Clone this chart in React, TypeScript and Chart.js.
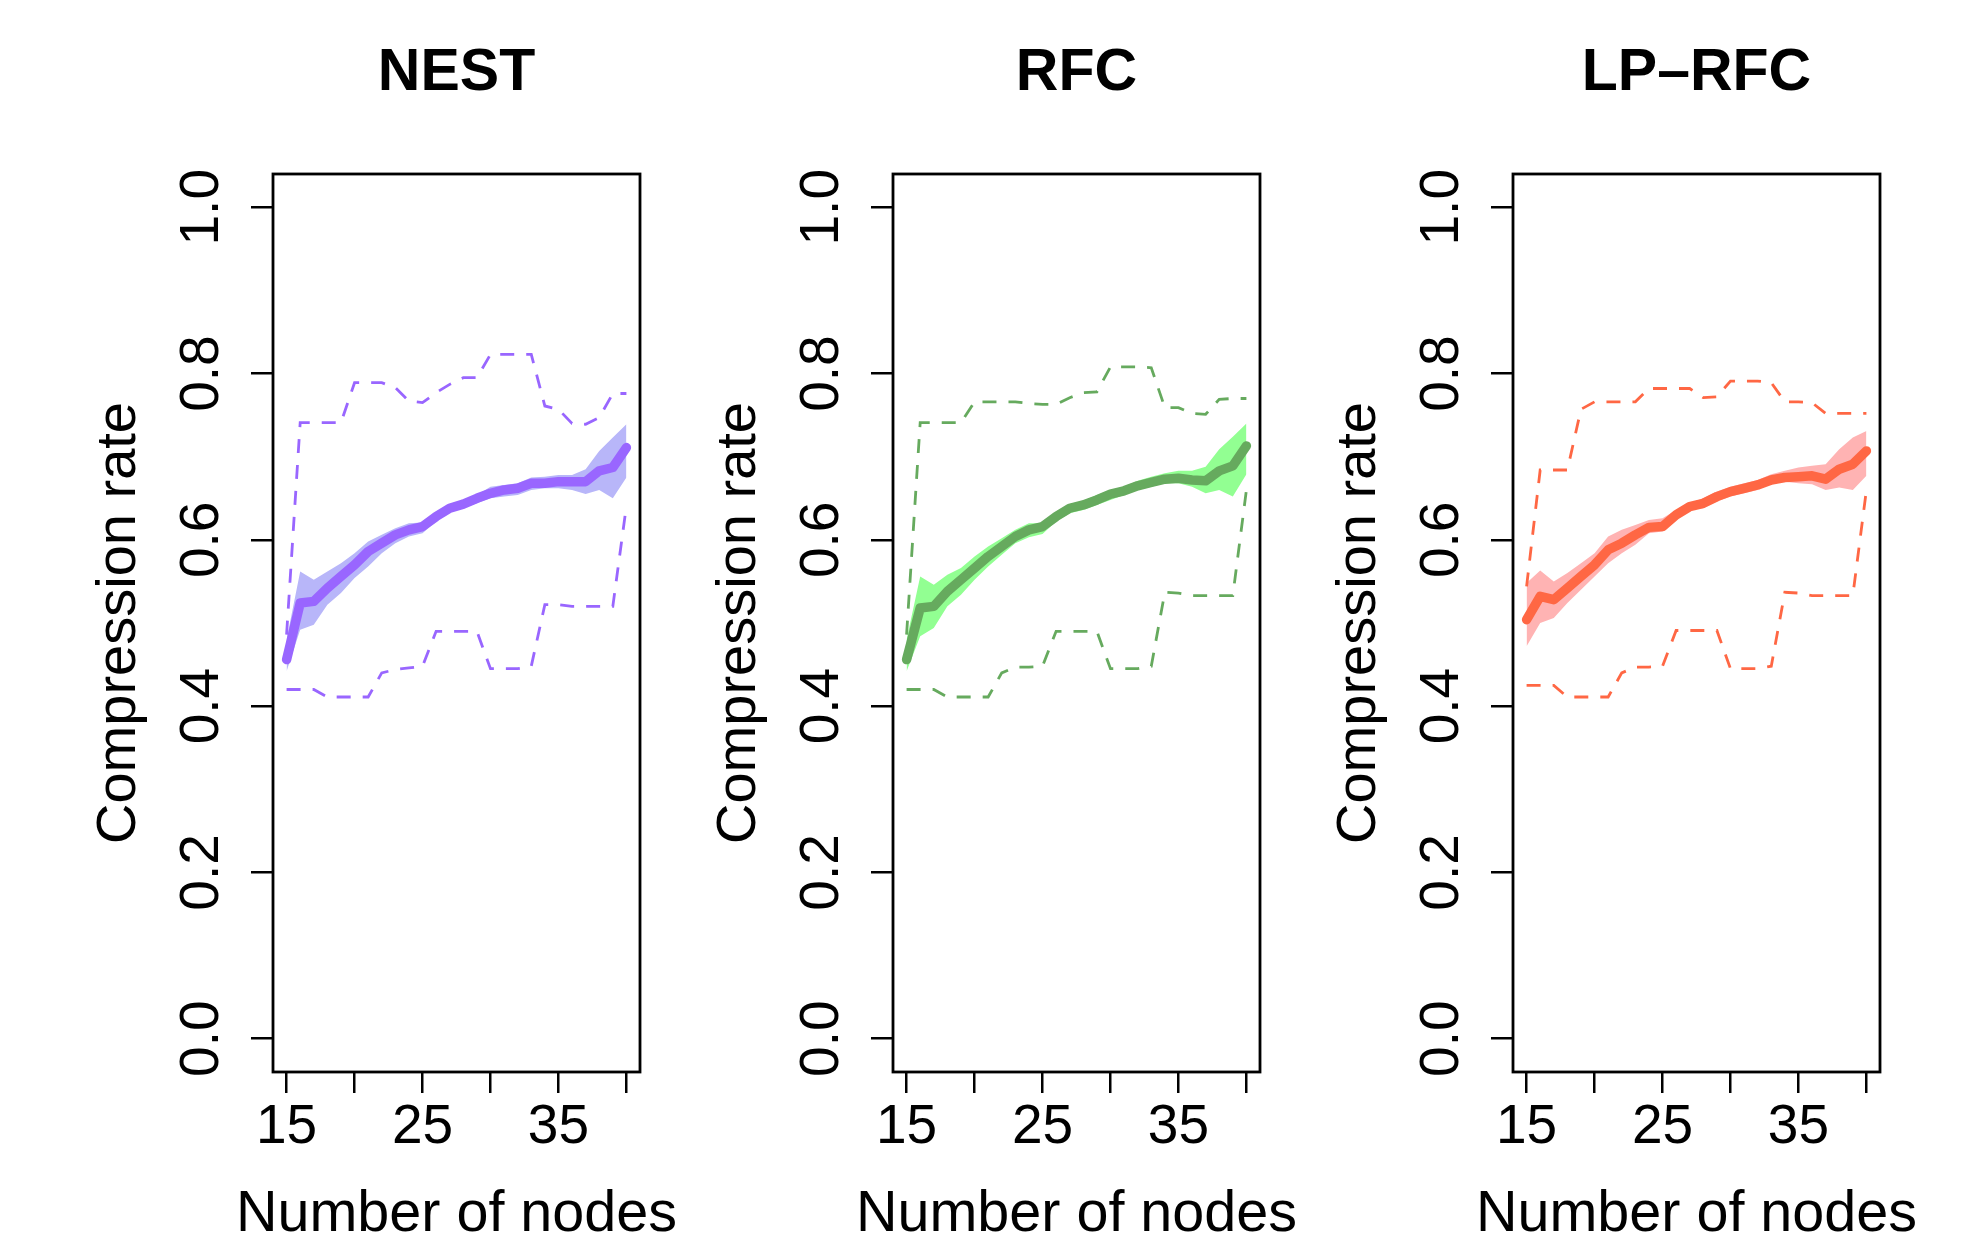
import React, { useEffect, useRef } from "react";
import { Chart, registerables } from "chart.js";

Chart.register(...registerables);

// ---------------- data ----------------
const nodes = [15, 16, 17, 18, 19, 20, 21, 22, 23, 24, 25, 26, 27, 28, 29, 30, 31, 32, 33, 34, 35, 36, 37, 38, 39, 40];

const xTickValues = [15, 20, 25, 30, 35, 40];
const xTickLabels = ["15", "", "25", "", "35", ""];
const yTickValues = [0, 0.2, 0.4, 0.6, 0.8, 1.0];
const panelTitles = ["NEST", "RFC", "LP\u2013RFC"];
const xAxisTitle = "Number of nodes";
const yAxisTitle = "Compression rate";

// NEST
const nestMean = [0.456, 0.524, 0.526, 0.542, 0.556, 0.570, 0.586, 0.596, 0.606, 0.612, 0.616, 0.628, 0.638, 0.643, 0.650, 0.656, 0.660, 0.662, 0.668, 0.668, 0.670, 0.670, 0.670, 0.683, 0.687, 0.711];
const nestBandLo = [0.442, 0.492, 0.498, 0.522, 0.536, 0.554, 0.568, 0.584, 0.596, 0.604, 0.608, 0.622, 0.634, 0.638, 0.644, 0.650, 0.652, 0.654, 0.660, 0.662, 0.662, 0.660, 0.655, 0.660, 0.650, 0.675];
const nestBandHi = [0.480, 0.562, 0.552, 0.562, 0.572, 0.584, 0.598, 0.606, 0.614, 0.620, 0.621, 0.632, 0.643, 0.648, 0.654, 0.664, 0.666, 0.668, 0.675, 0.676, 0.678, 0.678, 0.685, 0.707, 0.723, 0.739];
const nestMax = [0.486, 0.741, 0.741, 0.741, 0.741, 0.789, 0.789, 0.789, 0.783, 0.767, 0.765, 0.777, 0.787, 0.795, 0.795, 0.823, 0.823, 0.823, 0.823, 0.761, 0.757, 0.740, 0.739, 0.747, 0.776, 0.776];
const nestMin = [0.420, 0.420, 0.420, 0.411, 0.411, 0.411, 0.411, 0.440, 0.444, 0.446, 0.448, 0.490, 0.490, 0.490, 0.490, 0.445, 0.445, 0.445, 0.448, 0.522, 0.522, 0.520, 0.520, 0.520, 0.520, 0.641];

// RFC
const rfcMean = [0.456, 0.518, 0.520, 0.538, 0.552, 0.566, 0.580, 0.592, 0.604, 0.612, 0.616, 0.628, 0.638, 0.642, 0.648, 0.655, 0.659, 0.665, 0.669, 0.673, 0.674, 0.672, 0.671, 0.683, 0.689, 0.713];
const rfcBandLo = [0.442, 0.484, 0.494, 0.520, 0.534, 0.552, 0.568, 0.582, 0.596, 0.603, 0.607, 0.622, 0.632, 0.636, 0.642, 0.648, 0.654, 0.660, 0.664, 0.668, 0.668, 0.664, 0.656, 0.660, 0.652, 0.679];
const rfcBandHi = [0.480, 0.556, 0.546, 0.558, 0.566, 0.580, 0.592, 0.602, 0.612, 0.620, 0.620, 0.632, 0.643, 0.647, 0.654, 0.660, 0.664, 0.671, 0.676, 0.680, 0.683, 0.683, 0.688, 0.709, 0.724, 0.740];
const rfcMax = [0.486, 0.741, 0.741, 0.741, 0.741, 0.766, 0.766, 0.766, 0.766, 0.764, 0.763, 0.763, 0.771, 0.777, 0.778, 0.808, 0.808, 0.808, 0.807, 0.759, 0.759, 0.752, 0.751, 0.769, 0.770, 0.770];
const rfcMin = [0.420, 0.420, 0.420, 0.411, 0.411, 0.411, 0.411, 0.440, 0.447, 0.447, 0.448, 0.490, 0.490, 0.490, 0.490, 0.445, 0.445, 0.445, 0.448, 0.537, 0.536, 0.533, 0.533, 0.533, 0.533, 0.660];

// LP-RFC
const lpMean = [0.504, 0.532, 0.528, 0.542, 0.556, 0.570, 0.588, 0.596, 0.606, 0.615, 0.616, 0.630, 0.640, 0.644, 0.652, 0.658, 0.662, 0.666, 0.672, 0.675, 0.676, 0.677, 0.673, 0.685, 0.691, 0.707];
const lpBandLo = [0.472, 0.500, 0.506, 0.524, 0.540, 0.556, 0.572, 0.584, 0.594, 0.608, 0.610, 0.624, 0.636, 0.638, 0.646, 0.652, 0.656, 0.660, 0.668, 0.670, 0.668, 0.667, 0.660, 0.663, 0.660, 0.677];
const lpBandHi = [0.548, 0.563, 0.550, 0.560, 0.572, 0.584, 0.604, 0.612, 0.618, 0.624, 0.626, 0.636, 0.644, 0.650, 0.658, 0.664, 0.668, 0.672, 0.679, 0.683, 0.687, 0.689, 0.691, 0.709, 0.723, 0.731];
const lpMax = [0.544, 0.684, 0.684, 0.684, 0.757, 0.766, 0.766, 0.766, 0.766, 0.782, 0.782, 0.782, 0.782, 0.771, 0.772, 0.791, 0.791, 0.791, 0.789, 0.766, 0.766, 0.765, 0.752, 0.752, 0.752, 0.752];
const lpMin = [0.425, 0.425, 0.425, 0.411, 0.411, 0.411, 0.411, 0.440, 0.447, 0.447, 0.448, 0.491, 0.491, 0.491, 0.491, 0.445, 0.445, 0.445, 0.448, 0.537, 0.536, 0.533, 0.533, 0.533, 0.533, 0.660];

// ---------------- styles ----------------
const FONT = "'Liberation Sans', Arial, Helvetica, sans-serif";
const lineColors = ["#9966FF", "#66AA5E", "#FF6744"];
const bandColors = ["#B8B6F9", "#92FF92", "#FFB3B3"];

const panels = [
  { title: panelTitles[0], mean: nestMean, lo: nestBandLo, hi: nestBandHi, max: nestMax, min: nestMin },
  { title: panelTitles[1], mean: rfcMean, lo: rfcBandLo, hi: rfcBandHi, max: rfcMax, min: rfcMin },
  { title: panelTitles[2], mean: lpMean, lo: lpBandLo, hi: lpBandHi, max: lpMax, min: lpMin },
];

const SIDE = 273; // space left of plot box (mirrored on the right so titles centre over the box)
const PLOT_W = 367;
const CANVAS_W = SIDE * 2 + PLOT_W;
const CANVAS_H = 1239;
const PANEL_STEP = 620;

const boxPlugin = {
  id: "plotBox",
  afterDraw(chart: any) {
    const { ctx, chartArea: a } = chart;
    ctx.save();
    ctx.strokeStyle = "#000";
    ctx.lineWidth = 2.8;
    ctx.strokeRect(a.left, a.top, a.right - a.left, a.bottom - a.top);
    ctx.restore();
  },
};

const toPts = (arr: number[]) => nodes.map((x, i) => ({ x, y: arr[i] }));

function Panel({ index }: { index: number }) {
  const ref = useRef<HTMLCanvasElement | null>(null);
  useEffect(() => {
    if (!ref.current) return;
    const p = panels[index];
    const line = lineColors[index];
    const band = bandColors[index];
    const dashed = {
      borderColor: line,
      borderWidth: 2.8,
      borderDash: [14, 12],
      pointRadius: 0,
      fill: false,
      xAxisID: "x",
      yAxisID: "y",
      order: 1,
    };
    const chart = new Chart(ref.current, {
      type: "line",
      data: {
        datasets: [
          { data: toPts(p.lo), borderWidth: 0, borderColor: "rgba(0,0,0,0)", pointRadius: 0, fill: false, xAxisID: "x", yAxisID: "y", order: 3 },
          { data: toPts(p.hi), borderWidth: 0, borderColor: "rgba(0,0,0,0)", backgroundColor: band, pointRadius: 0, fill: "-1", xAxisID: "x", yAxisID: "y", order: 2 },
          { data: toPts(p.max), ...dashed },
          { data: toPts(p.min), ...dashed },
          { data: toPts(p.mean), borderColor: line, borderWidth: 9.5, borderCapStyle: "round", borderJoinStyle: "round", pointRadius: 0, fill: false, xAxisID: "x", yAxisID: "y", order: 0 },
        ],
      } as any,
      options: {
        responsive: false,
        animation: false,
        layout: { padding: 0 },
        elements: { line: { tension: 0 } },
        plugins: {
          legend: { display: false },
          tooltip: { enabled: false },
          title: {
            display: true,
            position: "top",
            text: p.title,
            color: "#000",
            font: { family: FONT, size: 59, weight: "bold", lineHeight: 1 },
            padding: { top: 44, bottom: 71 },
          },
          subtitle: {
            display: true,
            position: "bottom",
            text: xAxisTitle,
            color: "#000",
            font: { family: FONT, size: 57.5, weight: "normal", lineHeight: 0.835 },
            padding: { top: 0, bottom: 0 },
          },
        },
        scales: {
          x: {
            type: "linear",
            position: "bottom",
            min: 14,
            max: 41,
            afterBuildTicks: (s: any) => {
              s.ticks = xTickValues.map((v) => ({ value: v }));
            },
            afterFit: (s: any) => {
              s.height = 167 - 48;
            },
            grid: { display: true, drawOnChartArea: false, drawTicks: true, tickLength: 21, lineWidth: 2.5, tickWidth: 2.5, tickColor: "#000" },
            border: { display: false },
            ticks: {
              autoSkip: false,
              maxRotation: 0,
              minRotation: 0,
              padding: 2,
              color: "#000",
              font: { family: FONT, size: 55 },
              callback: (v: any) => {
                const i = xTickValues.indexOf(Number(v));
                return i >= 0 ? xTickLabels[i] : "";
              },
            },
          },
          y: {
            type: "linear",
            position: "left",
            min: -0.04,
            max: 1.04,
            afterBuildTicks: (s: any) => {
              s.ticks = yTickValues.map((v) => ({ value: v }));
            },
            afterFit: (s: any) => {
              s.width = SIDE;
            },
            grid: { display: true, drawOnChartArea: false, drawTicks: true, tickLength: 22, lineWidth: 2.5, tickWidth: 2.5, tickColor: "#000" },
            border: { display: false },
            ticks: {
              minRotation: 90,
              maxRotation: 90,
              crossAlign: "center",
              padding: 10,
              color: "#000",
              font: { family: FONT, size: 55 },
              callback: (v: any) => Number(v).toFixed(1),
            },
            title: {
              display: true,
              text: yAxisTitle,
              color: "#000",
              font: { family: FONT, size: 56, lineHeight: 1 },
              padding: { top: 92, bottom: 0 },
            },
          },
          yRight: {
            type: "linear",
            axis: "y",
            position: "right",
            afterFit: (s: any) => {
              s.width = SIDE;
            },
            grid: { display: false },
            border: { display: false },
            ticks: { display: false },
          },
        },
      } as any,
      plugins: [boxPlugin],
    });
    return () => chart.destroy();
  }, [index]);

  return (
    <canvas
      ref={ref}
      width={CANVAS_W}
      height={CANVAS_H}
      style={{ position: "absolute", left: index * PANEL_STEP, top: 0, width: CANVAS_W, height: CANVAS_H }}
    />
  );
}

export default function App() {
  return (
    <div style={{ position: "absolute", left: 0, top: 0, width: 1988, height: 1239, overflow: "hidden", background: "#fff" }}>
      {panels.map((_, i) => (
        <Panel key={i} index={i} />
      ))}
    </div>
  );
}
